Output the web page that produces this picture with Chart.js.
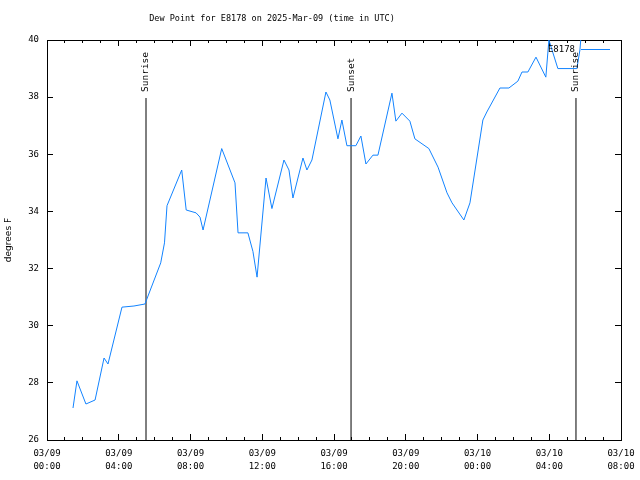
<!DOCTYPE html>
<html>
<head>
<meta charset="utf-8">
<script src="https://cdn.jsdelivr.net/npm/chart.js@4.4.1/dist/chart.umd.min.js"></script>
<style>
  body { margin: 0; background: #fff; }
</style>
</head>
<body>
<canvas id="canvas" width="640" height="480"></canvas>
<script>
// hours since 03/09 00:00 UTC
var hours = [1.45, 1.67, 2.17, 2.68, 3.18, 3.40, 4.18, 4.85, 5.46, 6.34,
             6.55, 6.69, 7.51, 7.76, 8.31, 8.53, 8.70, 9.74, 10.48, 10.65,
             11.20, 11.48, 11.71, 12.21, 12.54, 13.21, 13.49, 13.71, 14.27, 14.49,
             14.77, 15.55, 15.77, 16.22, 16.44, 16.72, 17.22, 17.50, 17.78, 18.17,
             18.45, 19.23, 19.45, 19.79, 20.23, 20.51, 21.29, 21.80, 22.30, 22.58,
             23.24, 23.58, 24.30, 24.52, 25.25, 25.75, 26.25, 26.48, 26.81, 27.26,
             27.81, 27.98, 28.48, 29.54, 29.71, 29.82];
var dewPoint = [27.12, 28.07, 27.26, 27.40, 28.87, 28.66, 30.65, 30.69, 30.76, 32.20,
                32.90, 34.20, 35.45, 34.05, 33.95, 33.80, 33.35, 36.20, 35.00, 33.25,
                33.25, 32.60, 31.70, 35.17, 34.10, 35.80, 35.45, 34.47, 35.87, 35.45,
                35.80, 38.18, 37.90, 36.54, 37.20, 36.30, 36.30, 36.64, 35.66, 35.97,
                35.97, 38.14, 37.16, 37.44, 37.16, 36.54, 36.20, 35.55, 34.65, 34.30,
                33.70, 34.30, 37.20, 37.48, 38.32, 38.32, 38.56, 38.88, 38.88, 39.40,
                38.70, 40.00, 39.00, 39.00, 39.65, 40.50];

var eventNames = ['Sunrise', 'Sunset', 'Sunrise'];
var eventHours = [5.52, 16.95, 29.49];
var eventTop = 37.97;

var xTickLabels = [['03/09', '00:00'], ['03/09', '04:00'], ['03/09', '08:00'],
                   ['03/09', '12:00'], ['03/09', '16:00'], ['03/09', '20:00'],
                   ['03/10', '00:00'], ['03/10', '04:00'], ['03/10', '08:00']];

var FONT = "'DejaVu Sans Mono', monospace";
var LINE = '#1283ff';
Chart.defaults.font.family = FONT;
Chart.defaults.font.size = 9;
Chart.defaults.color = '#000';

var datasets = [{
  label: 'E8178',
  data: hours.map(function(h, i) { return {x: h, y: dewPoint[i]}; }),
  borderColor: LINE,
  borderWidth: 1,
  pointRadius: 0,
  fill: false,
  tension: 0
}];
for (var i = 0; i < eventHours.length; i++) {
  datasets.push({
    label: eventNames[i],
    data: [{x: eventHours[i], y: 26}, {x: eventHours[i], y: eventTop}],
    borderColor: '#000',
    borderWidth: 1,
    pointRadius: 0
  });
}

function noPad(s) { s.paddingLeft = 0; s.paddingRight = 0; s.paddingTop = 0; s.paddingBottom = 0; }

var overlay = {
  id: 'overlay',
  afterDatasetsDraw: function(chart) {
    var ctx = chart.ctx, xs = chart.scales.x, ys = chart.scales.y, area = chart.chartArea;
    ctx.save();
    ctx.fillStyle = '#000';

    // sunrise / sunset labels
    ctx.font = '9.5px ' + FONT;
    ctx.textAlign = 'left';
    ctx.textBaseline = 'middle';
    for (var i = 0; i < eventNames.length; i++) {
      ctx.save();
      ctx.translate(xs.getPixelForValue(eventHours[i]), ys.getPixelForValue(eventTop) - 6);
      ctx.rotate(-Math.PI / 2);
      ctx.fillText(eventNames[i], 0, 0);
      ctx.restore();
    }

    // key
    ctx.font = '9px ' + FONT;
    ctx.textAlign = 'right';
    ctx.fillText(datasets[0].label, area.right - 46, area.top + 10);
    ctx.strokeStyle = LINE;
    ctx.lineWidth = 1;
    ctx.beginPath();
    ctx.moveTo(area.right - 40, area.top + 9.5);
    ctx.lineTo(area.right - 11, area.top + 9.5);
    ctx.stroke();

    // title
    ctx.font = '8.5px ' + FONT;
    ctx.textAlign = 'center';
    ctx.fillText('Dew Point for E8178 on 2025-Mar-09 (time in UTC)', 272, 19);
    ctx.restore();
  }
};

var ctx = document.getElementById('canvas').getContext('2d');
var chart = new Chart(ctx, {
  type: 'line',
  data: { datasets: datasets },
  plugins: [overlay],
  options: {
    responsive: false,
    animation: false,
    devicePixelRatio: 1,
    layout: { padding: 0 },
    plugins: {
      legend: { display: false },
      title: { display: false },
      tooltip: { enabled: false }
    },
    scales: {
      x: {
        type: 'linear', position: 'bottom', min: 0, max: 32, weight: 1,
        ticks: {
          stepSize: 4, autoSkip: false, maxRotation: 0, padding: 13.2,
          font: { lineHeight: 1.45 },
          callback: function(v, i) { return xTickLabels[i]; }
        },
        grid: { drawOnChartArea: false, tickLength: -6, tickColor: '#000' },
        border: { color: '#000', width: 1 },
        afterFit: function(s) { s.height = 40; noPad(s); }
      },
      xMinor: {
        type: 'linear', position: 'bottom', min: 0, max: 32, weight: 0,
        ticks: { stepSize: 1, display: false },
        grid: { drawOnChartArea: false, tickLength: -3, tickColor: '#000' },
        border: { display: false },
        afterFit: function(s) { s.height = 0; noPad(s); }
      },
      xTop: {
        type: 'linear', position: 'top', min: 0, max: 32, weight: 1,
        ticks: { stepSize: 4, display: false },
        grid: { drawOnChartArea: false, tickLength: -6, tickColor: '#000' },
        border: { color: '#000', width: 1 },
        afterFit: function(s) { s.height = 40; noPad(s); }
      },
      xTopMinor: {
        type: 'linear', position: 'top', min: 0, max: 32, weight: 0,
        ticks: { stepSize: 1, display: false },
        grid: { drawOnChartArea: false, tickLength: -3, tickColor: '#000' },
        border: { display: false },
        afterFit: function(s) { s.height = 0; noPad(s); }
      },
      y: {
        position: 'left', min: 26, max: 40,
        ticks: { stepSize: 2, padding: 14 },
        grid: { drawOnChartArea: false, tickLength: -6, tickColor: '#000' },
        border: { color: '#000', width: 1 },
        title: { display: true, text: 'degrees F', font: { family: "'DejaVu Sans', sans-serif", size: 9 },
                 padding: { top: 3, bottom: 0 } },
        afterFit: function(s) { s.width = 47; noPad(s); }
      },
      y2: {
        position: 'right', min: 26, max: 40,
        ticks: { stepSize: 2, display: false },
        grid: { drawOnChartArea: false, tickLength: -6, tickColor: '#000' },
        border: { color: '#000', width: 1 },
        afterFit: function(s) { s.width = 19; noPad(s); }
      }
    }
  }
});
</script>
</body>
</html>
